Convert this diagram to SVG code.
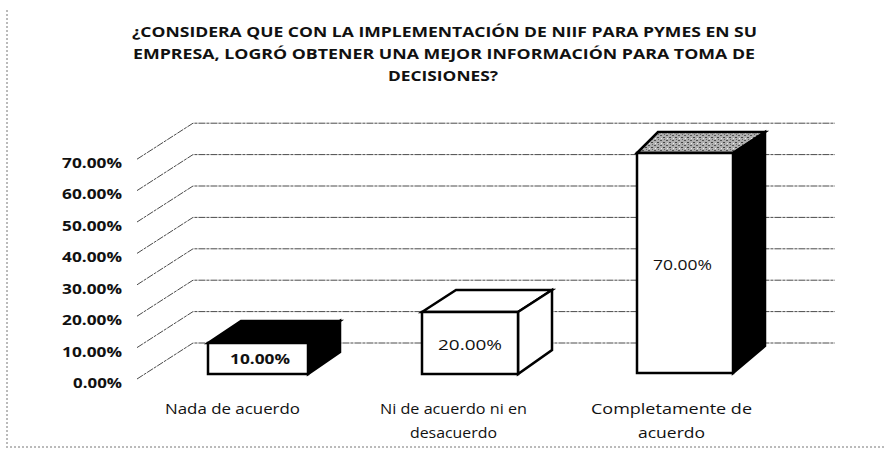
<svg xmlns="http://www.w3.org/2000/svg" width="889" height="454" viewBox="0 0 889 454">
  <defs>
    <pattern id="stip" width="6" height="5" patternUnits="userSpaceOnUse">
      <rect width="6" height="5" fill="#b0b0b0"/>
      <rect x="0" y="0" width="2" height="1" fill="#555"/>
      <rect x="3" y="2" width="2" height="1" fill="#444"/>
      <rect x="1" y="3" width="1" height="1" fill="#eee"/>
      <rect x="4" y="4" width="1" height="1" fill="#666"/>
    </pattern>
  </defs>
  <style>
    .title { font-family: "Open Sans", "Liberation Sans", sans-serif; font-weight: bold; font-size: 15px; fill: #111; }
    .axis { font-family: "Open Sans", "Liberation Sans", sans-serif; font-weight: bold; font-size: 14px; fill: #111; }
    .cat { font-family: "Open Sans", "Liberation Sans", sans-serif; font-size: 14px; fill: #111; }
    .val { font-family: "Open Sans", "Liberation Sans", sans-serif; font-size: 14px; fill: #111; }
    .grid { fill: none; stroke: #4a4a4a; stroke-width: 1; stroke-dasharray: 7 1 3 1; }
    .bar { stroke: #000; stroke-width: 2.5; stroke-linejoin: miter; }
    .edge { fill: none; stroke: #777; stroke-width: 1; stroke-dasharray: 2 2; }
  </style>
  <rect width="889" height="454" fill="#fff"/>
  <line class="edge" x1="7" y1="10" x2="7" y2="450"/>
  <line class="edge" x1="10" y1="447" x2="885" y2="447" stroke="#ccc"/>

  <g id="title">
    <text class="title" x="132" y="37" textLength="625" lengthAdjust="spacingAndGlyphs">¿CONSIDERA QUE CON LA IMPLEMENTACIÓN DE NIIF PARA PYMES EN SU</text>
    <text class="title" x="133" y="59" textLength="622" lengthAdjust="spacingAndGlyphs">EMPRESA, LOGRÓ OBTENER UNA MEJOR INFORMACIÓN PARA TOMA DE</text>
    <text class="title" x="388" y="81" textLength="110" lengthAdjust="spacingAndGlyphs">DECISIONES?</text>
  </g>

  <g id="gridlines">
    <polyline class="grid" points="137,379 193,343 835,343"/>
    <polyline class="grid" points="137,347.6 193,311.6 835,311.6"/>
    <polyline class="grid" points="137,316.2 193,280.2 835,280.2"/>
    <polyline class="grid" points="137,284.8 193,248.8 835,248.8"/>
    <polyline class="grid" points="137,253.4 193,217.4 835,217.4"/>
    <polyline class="grid" points="137,222 193,186 835,186"/>
    <polyline class="grid" points="137,190.6 193,154.6 835,154.6"/>
    <polyline class="grid" points="137,159.2 193,123.2 835,123.2"/>
  </g>

  <g id="axis-labels">
    <text class="axis" x="62" y="168" textLength="60" lengthAdjust="spacingAndGlyphs">70.00%</text>
    <text class="axis" x="62" y="199" textLength="60" lengthAdjust="spacingAndGlyphs">60.00%</text>
    <text class="axis" x="62" y="231" textLength="60" lengthAdjust="spacingAndGlyphs">50.00%</text>
    <text class="axis" x="62" y="262" textLength="60" lengthAdjust="spacingAndGlyphs">40.00%</text>
    <text class="axis" x="62" y="294" textLength="60" lengthAdjust="spacingAndGlyphs">30.00%</text>
    <text class="axis" x="62" y="325" textLength="60" lengthAdjust="spacingAndGlyphs">20.00%</text>
    <text class="axis" x="62" y="357" textLength="60" lengthAdjust="spacingAndGlyphs">10.00%</text>
    <text class="axis" x="73" y="388" textLength="49" lengthAdjust="spacingAndGlyphs">0.00%</text>
  </g>

  <g id="bar-nada">
    <polygon class="bar" fill="#000" points="208,343 241,321 340,321 308,343"/>
    <polygon class="bar" fill="#000" points="308,343 340,321 340,352 308,374"/>
    <rect class="bar" fill="#fff" x="208" y="343" width="100" height="31"/>
    <text class="val" x="230" y="364" textLength="60" lengthAdjust="spacingAndGlyphs" font-weight="bold">10.00%</text>
  </g>

  <g id="bar-ni">
    <polygon class="bar" fill="#fff" points="422,312 456,290 552,290 518,312"/>
    <polygon class="bar" fill="#fff" points="518,312 552,290 552,350 518,374"/>
    <rect class="bar" fill="#fff" x="422" y="312" width="96" height="62"/>
    <text class="val" x="438" y="350" textLength="64" lengthAdjust="spacingAndGlyphs">20.00%</text>
  </g>

  <g id="bar-completamente">
    <polygon class="bar" fill="url(#stip)" points="637,153 658,132 765,132 733,153"/>
    <polygon class="bar" fill="#000" points="733,153 765,132 765,346 733,373"/>
    <rect class="bar" fill="#fff" x="637" y="153" width="96" height="220"/>
    <text class="val" x="653" y="270" textLength="59" lengthAdjust="spacingAndGlyphs">70.00%</text>
  </g>

  <g id="category-labels">
    <text class="cat" x="165" y="414" textLength="135" lengthAdjust="spacingAndGlyphs">Nada de acuerdo</text>
    <text class="cat" x="380" y="414" textLength="147" lengthAdjust="spacingAndGlyphs">Ni de acuerdo ni en</text>
    <text class="cat" x="410" y="438" textLength="87" lengthAdjust="spacingAndGlyphs">desacuerdo</text>
    <text class="cat" x="591" y="414" textLength="161" lengthAdjust="spacingAndGlyphs">Completamente de</text>
    <text class="cat" x="638" y="438" textLength="67" lengthAdjust="spacingAndGlyphs">acuerdo</text>
  </g>
</svg>
